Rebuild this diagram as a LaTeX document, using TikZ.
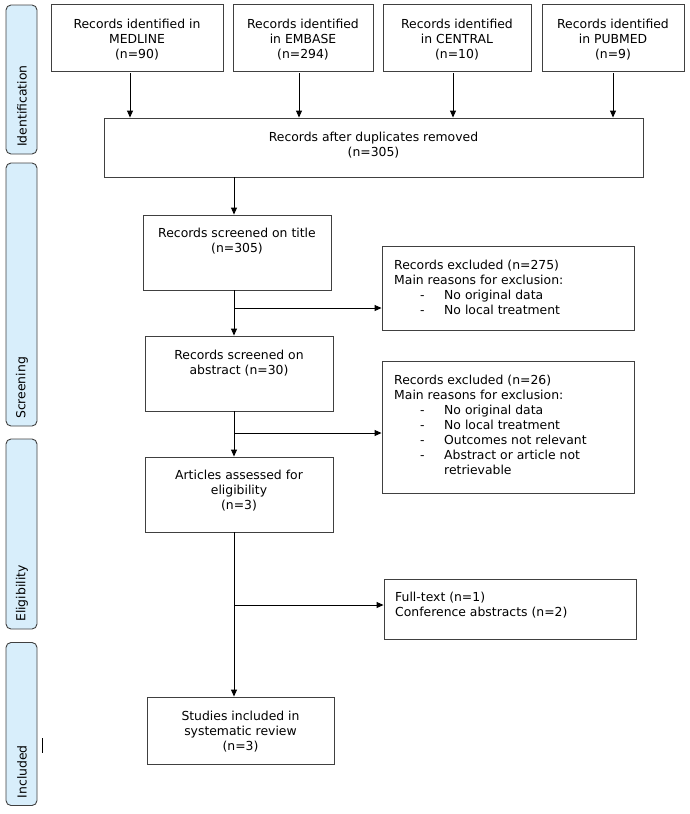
\documentclass[tikz,border=0pt]{standalone}
\usepackage{fontspec}
\setmainfont{DejaVu Sans}
\usetikzlibrary{arrows.meta}
\definecolor{sidefill}{RGB}{216,238,251}
\definecolor{boxline}{RGB}{64,64,64}
\tikzset{
  box/.style={draw=boxline, line width=0.9pt, rectangle, inner sep=0pt},
  side/.style={draw=boxline, line width=0.9pt, fill=sidefill, rounded corners=5pt, rectangle, inner sep=0pt, minimum width=31pt},
  sidetxt/.style={rotate=90, anchor=west, inner sep=0pt, font=\fontsize{12.4}{15}\selectfont},
  txt/.style={inner sep=0pt, align=center, anchor=north, font=\fontsize{12.4}{15}\selectfont},
  ltxt/.style={inner sep=0pt, align=left, anchor=north west, font=\fontsize{12.4}{15}\selectfont},
  arr/.style={line width=0.9pt, -{Triangle[length=7pt,width=6pt]}},
  ln/.style={line width=0.9pt}
}
\newcommand{\itm}[1]{\hspace*{26pt}\makebox[24pt][l]{-}#1}
\begin{document}
\begin{tikzpicture}[x=1pt,y=-1pt]
\useasboundingbox (0,0) rectangle (689,814);
% side labels
\node[side, minimum height=149pt] (sid) at (21.5,79.5) {};
\node[sidetxt] (sidt) at (22,147) {Identification};
\node[side, minimum height=263pt] (sscr) at (21.5,294.5) {};
\node[sidetxt] (sscrt) at (22,419) {Screening};
\node[side, minimum height=190pt] (selg) at (21.5,534) {};
\node[sidetxt] (selgt) at (22,622) {Eligibility};
\node[side, minimum height=163pt] (sinc) at (21.5,724) {};
\node[sidetxt] (sinct) at (22,798.5) {Included};
\draw[line width=0.7pt] (42,738) -- (42,753);
% top boxes
\node[box, minimum width=172pt, minimum height=67pt] (med) at (137,37.5) {};
\node[txt] (medt) at (137,19) {Records identified in\\MEDLINE\\(n=90)};
\node[box, minimum width=140pt, minimum height=67pt] (emb) at (303,37.5) {};
\node[txt] (embt) at (303,19) {Records identified\\in EMBASE\\(n=294)};
\node[box, minimum width=148pt, minimum height=67pt] (cen) at (457,37.5) {};
\node[txt] (cent) at (457,19) {Records identified\\in CENTRAL\\(n=10)};
\node[box, minimum width=142pt, minimum height=67pt] (pub) at (613,37.5) {};
\node[txt] (pubt) at (613,19) {Records identified\\in PUBMED\\(n=9)};
% duplicates
\node[box, minimum width=539pt, minimum height=59pt] (dup) at (373.5,147.5) {};
\node[txt] (dupt) at (373.5,132) {Records after duplicates removed\\(n=305)};
\coordinate (a1) at (130,0);
\coordinate (a2) at (299,0);
\coordinate (a3) at (453,0);
\coordinate (a4) at (613,0);
\draw[arr] ([yshift=-2pt]med.south -| a1) -- (dup.north -| a1);
\draw[arr] ([yshift=-2pt]emb.south -| a2) -- (dup.north -| a2);
\draw[arr] ([yshift=-2pt]cen.south -| a3) -- (dup.north -| a3);
\draw[arr] ([yshift=-2pt]pub.south -| a4) -- (dup.north -| a4);
% main column
\coordinate (mc) at (234,0);
\node[box, minimum width=188pt, minimum height=75pt] (tit) at (237,252.5) {};
\node[txt] (titt) at (237,228) {Records screened on title\\(n=305)};
\node[box, minimum width=188pt, minimum height=75pt] (abs) at (239,373.5) {};
\node[txt] (abst) at (239,350) {Records screened on\\abstract (n=30)};
\node[box, minimum width=188pt, minimum height=75pt] (art) at (239,494.5) {};
\node[txt] (artt) at (239,470) {Articles assessed for\\eligibility\\(n=3)};
\node[box, minimum width=187pt, minimum height=67pt] (stu) at (240.5,730.5) {};
\node[txt] (stut) at (240.5,711) {Studies included in\\systematic review\\(n=3)};
% exclusion boxes
\node[box, minimum width=252pt, minimum height=84pt] (ex1) at (508,288) {};
\node[ltxt] (ex1t) at (394,260) {Records excluded (n=275)\\Main reasons for exclusion:\\\itm{No original data}\\\itm{No local treatment}};
\node[box, minimum width=252pt, minimum height=132pt] (ex2) at (508,427) {};
\node[ltxt] (ex2t) at (394,375) {Records excluded (n=26)\\Main reasons for exclusion:\\\itm{No original data}\\\itm{No local treatment}\\\itm{Outcomes not relevant}\\\itm{Abstract or article not}\\\hspace*{50pt}retrievable};
\node[box, minimum width=252pt, minimum height=60pt] (ful) at (510,609) {};
\node[ltxt] (fult) at (395,592) {Full-text (n=1)\\Conference abstracts (n=2)};
% connectors
\draw[arr] (dup.south -| mc) -- (tit.north -| mc);
\draw[arr] (tit.south -| mc) -- (abs.north -| mc);
\draw[arr] (abs.south -| mc) -- (art.north -| mc);
\draw[arr] (art.south -| mc) -- (stu.north -| mc);
\coordinate (b1) at (234,308);
\coordinate (b2) at (234,433);
\coordinate (b3) at (234,605);
\draw[arr] (b1) -- (b1 -| ex1.west);
\draw[arr] (b2) -- (b2 -| ex2.west);
\draw[arr] (b3) -- (b3 -| ful.west);
\end{tikzpicture}
\end{document}
